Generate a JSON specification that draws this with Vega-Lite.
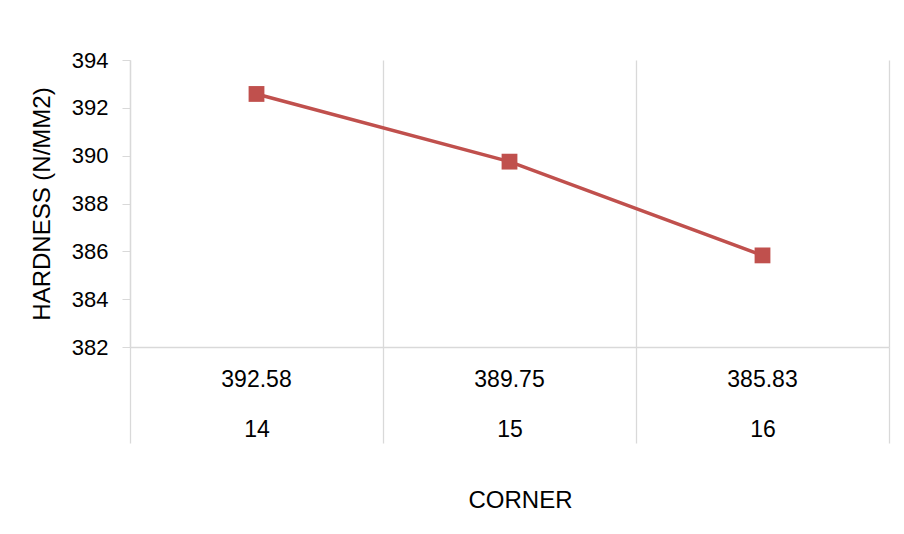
{
  "$schema": "https://vega.github.io/schema/vega-lite/v6.json",
  "width": 759,
  "height": 287,
  "autosize": {"type": "none"},
  "padding": {"left": 130, "top": 60, "right": 15, "bottom": 187},
  "background": "white",
  "config": {
    "view": {"stroke": null},
    "font": "Liberation Sans",
    "axis": {"labelFont": "Liberation Sans", "titleFont": "Liberation Sans", "labelColor": "#000", "titleColor": "#000", "titleFontWeight": "normal"}
  },
  "data": {
    "values": [
      {"Corner": "14", "Hardness": 392.58},
      {"Corner": "15", "Hardness": 389.75},
      {"Corner": "16", "Hardness": 385.83}
    ]
  },
  "encoding": {
    "y": {
      "field": "Hardness",
      "type": "quantitative",
      "scale": {"domain": [382, 394], "zero": false, "nice": false},
      "axis": {
        "title": "HARDNESS (N/MM2)",
        "titleFontSize": 24,
        "titlePadding": 17,
        "values": [382, 384, 386, 388, 390, 392, 394],
        "format": "d",
        "labelFontSize": 22,
        "labelPadding": 14,
        "tickSize": 8,
        "tickColor": "#d9d9d9",
        "domainColor": "#d9d9d9",
        "domainWidth": 1.3,
        "grid": false
      }
    }
  },
  "layer": [
    {
      "mark": {"type": "line", "color": "#C0504D", "strokeWidth": 3.5},
      "encoding": {
        "x": {
          "field": "Corner",
          "type": "nominal",
          "scale": {"type": "band", "paddingInner": 0, "paddingOuter": 0},
          "axis": {
            "orient": "bottom",
            "title": "CORNER",
            "titleFontSize": 24,
            "titlePadding": 45,
            "titleX": 390,
            "labelAngle": 0,
            "labelFontSize": 23,
            "labelPadding": -25,
            "tickBand": "extent",
            "tickSize": 96,
            "tickColor": "#d9d9d9",
            "tickWidth": 1.3,
            "grid": true,
            "gridColor": "#d9d9d9",
            "gridWidth": 1.3,
            "domainColor": "#d9d9d9",
            "domainWidth": 1.3
          }
        }
      }
    },
    {
      "mark": {"type": "point", "shape": "square", "filled": true, "size": 250, "color": "#C0504D", "opacity": 1},
      "encoding": {
        "x": {
          "field": "Hardness",
          "type": "ordinal",
          "sort": "descending",
          "scale": {"type": "band", "paddingInner": 0, "paddingOuter": 0},
          "axis": {
            "orient": "bottom",
            "title": null,
            "format": ".2f",
            "labelAngle": 0,
            "labelFontSize": 23,
            "labelPadding": 21,
            "ticks": false,
            "domain": false,
            "grid": false
          }
        }
      }
    }
  ],
  "resolve": {"scale": {"x": "independent"}, "axis": {"x": "independent"}}
}
